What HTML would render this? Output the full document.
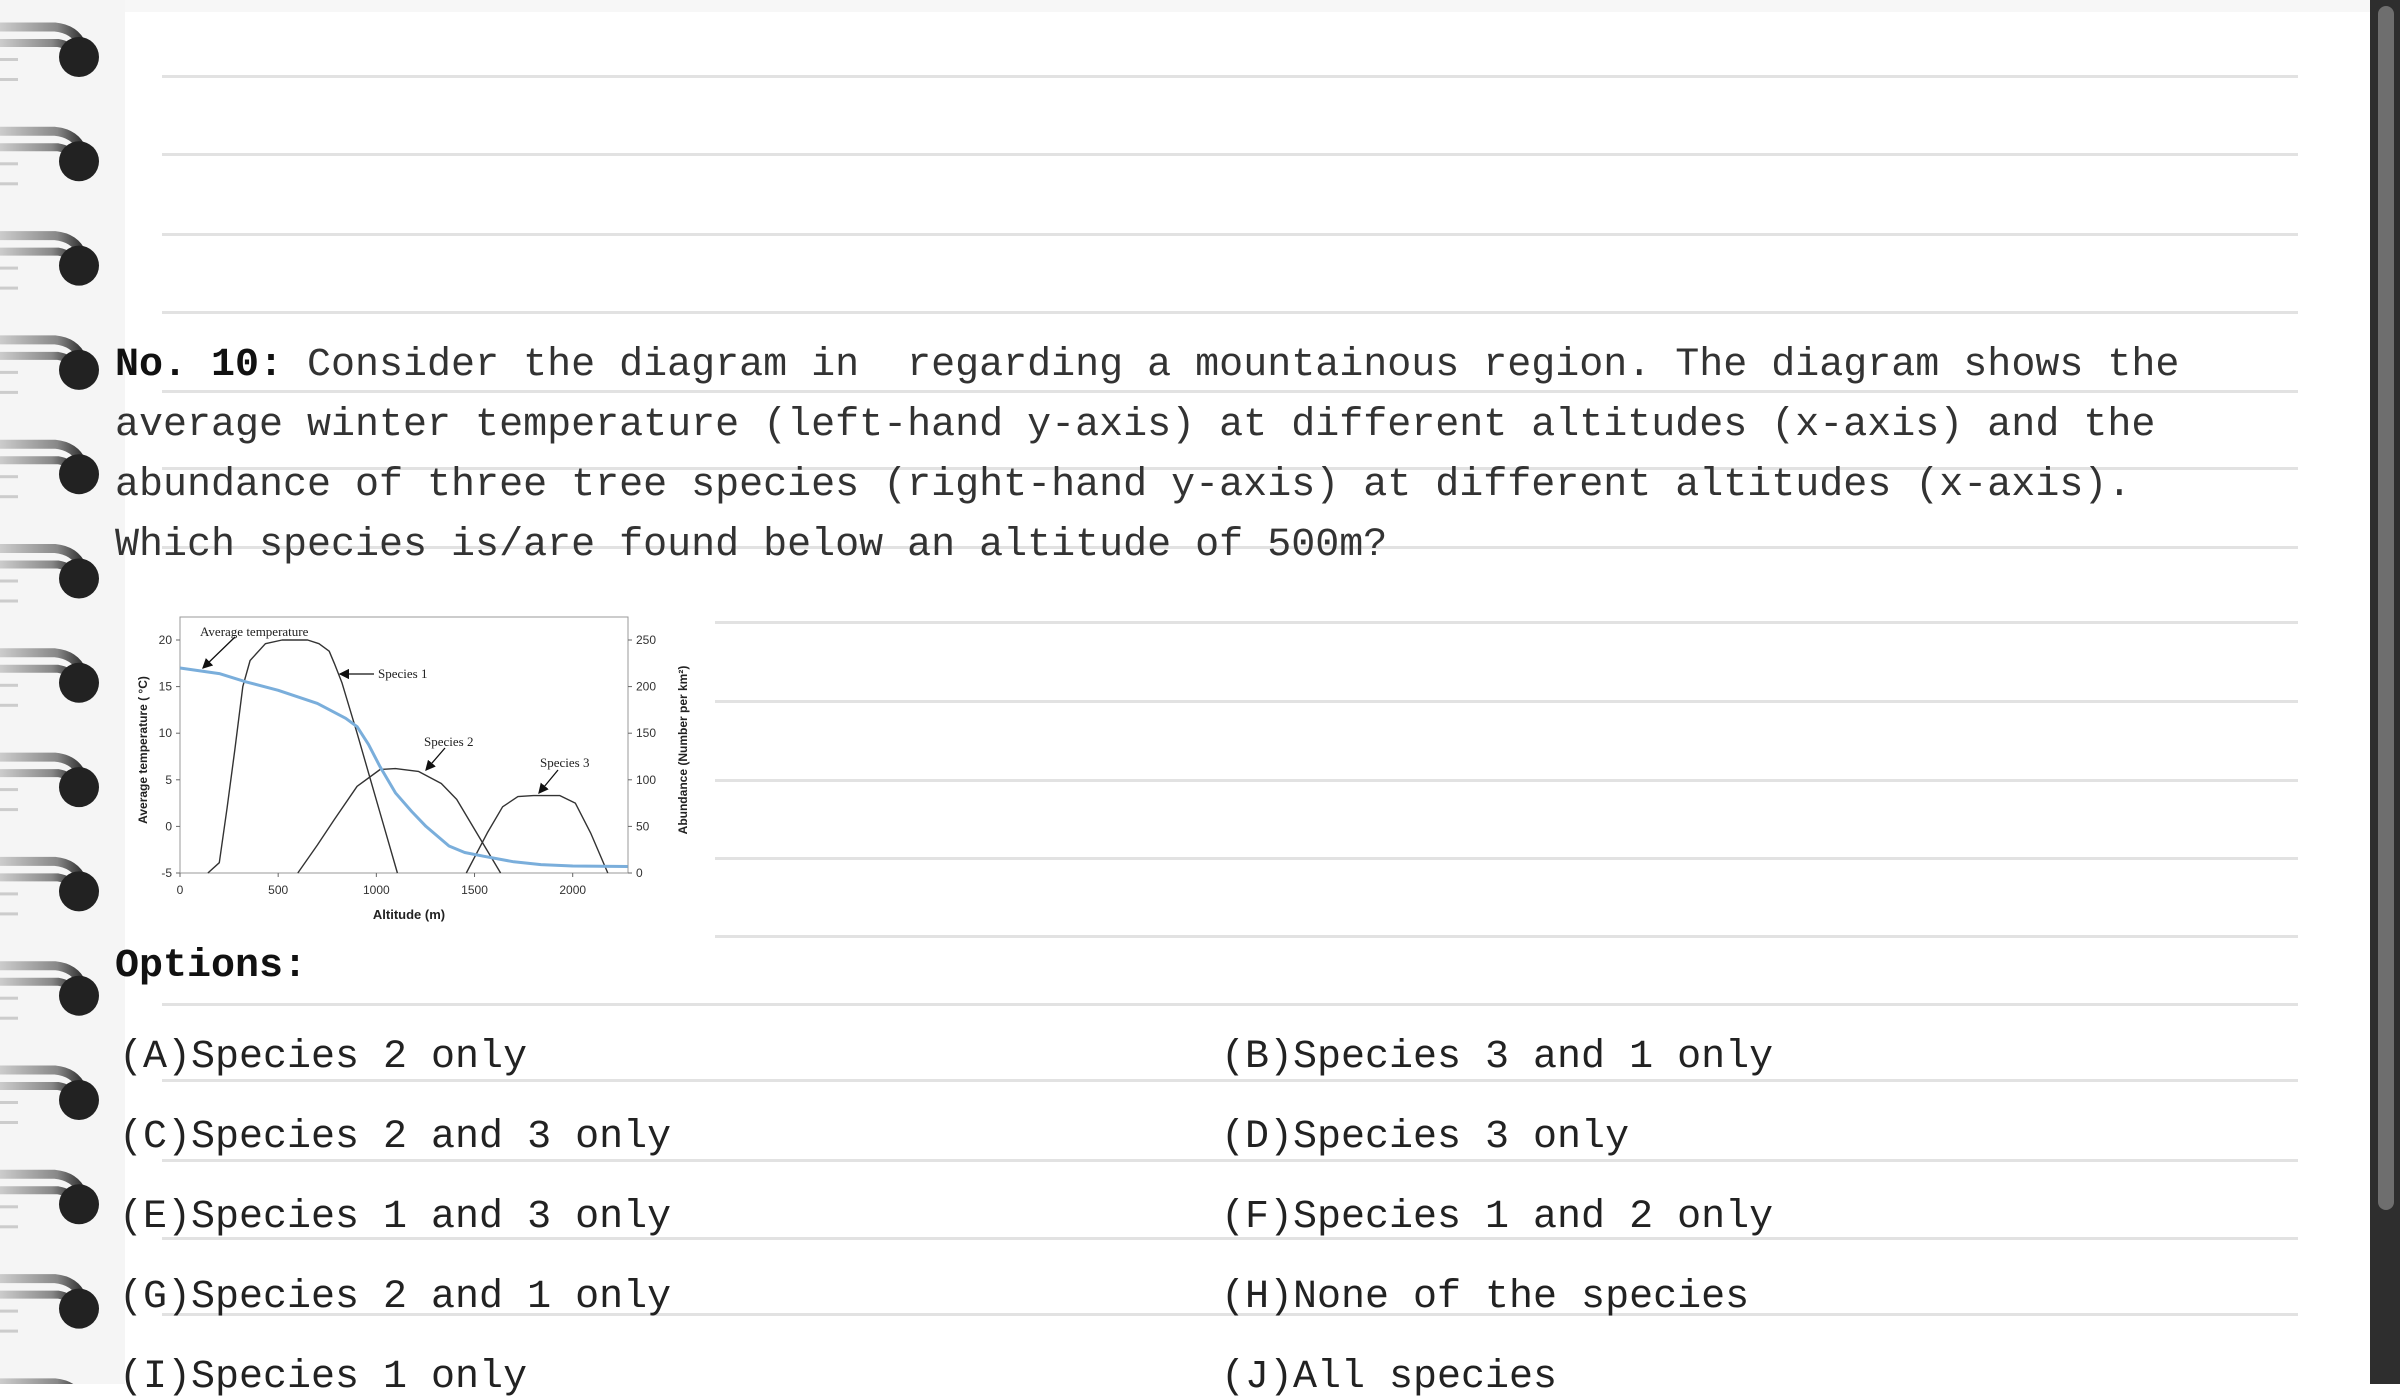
<!DOCTYPE html>
<html><head><meta charset="utf-8"><style>
html,body{margin:0;padding:0;}
body{width:2400px;height:1384px;position:relative;overflow:hidden;background:#fff;font-family:"Liberation Mono",monospace;}
.t{position:absolute;font-size:40px;color:#333;white-space:pre;line-height:1;}
.rule{position:absolute;height:3px;background:#e2e2e2;left:162px;width:2136px;}
</style></head><body>
<div style="position:absolute;left:0;top:0;width:125px;height:1384px;background:#f5f5f5"></div>
<div style="position:absolute;left:125px;top:0;width:2245px;height:12px;background:#f7f7f7"></div>
<div style="position:absolute;left:2370px;top:0;width:30px;height:1384px;background:#2e2e2e"></div>
<div style="position:absolute;left:2378px;top:6px;width:16px;height:1204px;background:#6e6e6e;border-radius:8px"></div>
<div id="rules"></div>
<svg id="rings" width="130" height="1384" style="position:absolute;left:0;top:0">
<defs><linearGradient id="wg" x1="0" x2="1"><stop offset="0" stop-color="#ccc"/><stop offset="0.7" stop-color="#888"/><stop offset="1" stop-color="#333"/></linearGradient></defs>
</svg>
<div class="t" style="left:115px;top:346px"><b style="color:#111">No. 10:</b> Consider the diagram in  regarding a mountainous region. The diagram shows the</div>
<div class="t" style="left:115px;top:406px">average winter temperature (left-hand y-axis) at different altitudes (x-axis) and the</div>
<div class="t" style="left:115px;top:466px">abundance of three tree species (right-hand y-axis) at different altitudes (x-axis).</div>
<div class="t" style="left:115px;top:526px">Which species is/are found below an altitude of 500m?</div>

<svg id="chart" width="620" height="340" style="position:absolute;left:120px;top:600px;font-family:'Liberation Sans',sans-serif"></svg>

<div class="t" style="left:115px;top:947px;color:#111;font-weight:bold">Options:</div>
<div class="t" style="left:119px;top:1038px;color:#222">(A)Species 2 only</div>
<div class="t" style="left:1221px;top:1038px;color:#222">(B)Species 3 and 1 only</div>
<div class="t" style="left:119px;top:1118px;color:#222">(C)Species 2 and 3 only</div>
<div class="t" style="left:1221px;top:1118px;color:#222">(D)Species 3 only</div>
<div class="t" style="left:119px;top:1198px;color:#222">(E)Species 1 and 3 only</div>
<div class="t" style="left:1221px;top:1198px;color:#222">(F)Species 1 and 2 only</div>
<div class="t" style="left:119px;top:1278px;color:#222">(G)Species 2 and 1 only</div>
<div class="t" style="left:1221px;top:1278px;color:#222">(H)None of the species</div>
<div class="t" style="left:119px;top:1358px;color:#222">(I)Species 1 only</div>
<div class="t" style="left:1221px;top:1358px;color:#222">(J)All species</div>

<script>
const ruleYs=[75,153,233,311,390,467,546,621,700,779,857,935,1003,1079,1159,1237,1313];
const R=document.getElementById('rules');
ruleYs.forEach(y=>{const d=document.createElement('div');d.className='rule';


d.style.top=y+'px';if(y>600&&y<940){d.style.left='715px';d.style.width='1583px';}R.appendChild(d);});
const NS='http://www.w3.org/2000/svg';
const rs=document.getElementById('rings');
for(let i=0;i<14;i++){const c=57+i*104.3;
 const g=document.createElementNS(NS,'g');
 
 
 g.innerHTML=`<path d="M0 ${c-30} L55 ${c-30} Q75 ${c-28} 82 ${c-12}" stroke="url(#wg)" stroke-width="9" fill="none"/><path d="M0 ${c-14} L58 ${c-14} Q70 ${c-12} 74 ${c-4}" stroke="url(#wg)" stroke-width="8" fill="none"/><circle cx="79" cy="${c}" r="20" fill="#222"/><rect x="0" y="${c+1}" width="18" height="3" fill="#ccc"/><rect x="0" y="${c+21}" width="18" height="3" fill="#ccc"/>`;
 rs.appendChild(g);}

// chart data
const tempAlt=[0,200,337,500,700,844,902,960,1019,1097,1180,1253,1370,1450,1545,1700,1838,2000,2280];
const tempVal=[17,16.4,15.5,14.6,13.2,11.6,10.7,8.8,6.4,3.6,1.6,0,-2.1,-2.8,-3.2,-3.8,-4.1,-4.25,-4.3];
const sp1Alt=[142,200,240,279,320,357,435,520,591,650,708,760,786,825,902,980,1107];
const sp1Val=[0,11,70,132,200,228,246,250,250,250,246,238,225,204,150,93,0];
const sp2Alt=[600,700,785,902,1019,1097,1214,1331,1409,1633];
const sp2Val=[0,30,57,93,111,112,109,96,79,0];
const sp3Alt=[1458,1565,1643,1721,1800,1935,2013,2091,2179];
const sp3Val=[0,43,71,82,83,83,75,43,0];
const xTicks=[0,500,1000,1500,2000];
const yLeftTicks=[-5,0,5,10,15,20];
const yRightTicks=[0,50,100,150,200,250];

const L=60,Rr=508,T=17,B=273;
const sx=a=>L+a*(392.7/2000);
const syT=v=>B-(v+5)*(233/25);
const syA=v=>B-v*(233/250);
const svg=document.getElementById('chart');
function el(tag,attrs,name,text){const e=document.createElementNS(NS,tag);for(const k in attrs)e.setAttribute(k,attrs[k]);
 
 
 if(text!==undefined)e.textContent=text;svg.appendChild(e);return e;}
el('rect',{x:L,y:T,width:Rr-L,height:B-T,fill:'#fff',stroke:'#999','stroke-width':1},'plot-frame');
xTicks.forEach(t=>{el('line',{x1:sx(t),x2:sx(t),y1:B,y2:B+4,stroke:'#666'},'x-tick');
 el('text',{x:sx(t),y:B+21,'font-size':12,'text-anchor':'middle',fill:'#333'},'x-tick-label',t);});
yLeftTicks.forEach(t=>{el('line',{x1:L-4,x2:L,y1:syT(t),y2:syT(t),stroke:'#666'},'y-left-tick');
 el('text',{x:L-8,y:syT(t)+4,'font-size':12,'text-anchor':'end',fill:'#333'},'y-left-tick-label',t);});
yRightTicks.forEach(t=>{el('line',{x1:Rr,x2:Rr+4,y1:syA(t),y2:syA(t),stroke:'#666'},'y-right-tick');
 el('text',{x:Rr+8,y:syA(t)+4,'font-size':12,'text-anchor':'start',fill:'#333'},'y-right-tick-label',t);});
el('text',{x:(L+Rr)/2+5,y:319,'font-size':13,'font-weight':'bold','text-anchor':'middle',fill:'#222'},'x-axis-title','Altitude (m)');
el('text',{x:0,y:0,'font-size':12,'font-weight':'bold','text-anchor':'middle',fill:'#222',transform:`translate(27,${(T+B)/2+5}) rotate(-90)`},'y-left-axis-title','Average temperature ( \u00B0C)');
el('text',{x:0,y:0,'font-size':12,'font-weight':'bold','text-anchor':'middle',fill:'#222',transform:`translate(567,${(T+B)/2+5}) rotate(-90)`},'y-right-axis-title','Abundance (Number per km\u00B2)');
function pathOf(xs,ys,fy){return xs.map((a,i)=>(i?'L':'M')+sx(a).toFixed(1)+' '+fy(ys[i]).toFixed(1)).join(' ');}
el('path',{d:pathOf(sp1Alt,sp1Val,syA),fill:'none',stroke:'#333','stroke-width':1.4,'stroke-linejoin':'round'},'species-1-line');
el('path',{d:pathOf(sp2Alt,sp2Val,syA),fill:'none',stroke:'#333','stroke-width':1.4,'stroke-linejoin':'round'},'species-2-line');
el('path',{d:pathOf(sp3Alt,sp3Val,syA),fill:'none',stroke:'#333','stroke-width':1.4,'stroke-linejoin':'round'},'species-3-line');
el('path',{d:pathOf(tempAlt,tempVal,syT),fill:'none',stroke:'#7aaedb','stroke-width':3,'stroke-linejoin':'round'},'temperature-line');
el('defs',{},'arrow-defs').innerHTML='<marker id="ah" markerWidth="8" markerHeight="8" refX="7" refY="4" orient="auto"><path d="M0 0 L8 4 L0 8 z" fill="#111"/></marker>';
const ann=[['Average temperature',80,32,115,37,83,68],['Species 1',258,74,254,74,220,74],['Species 2',304,142,325,148,306,170],['Species 3',420,163,438,170,419,193]];
ann.forEach(a=>{el('text',{x:a[1],y:a[2]+4,'font-size':13,'font-family':'Liberation Serif,serif',fill:'#222'},'annotation-label',a[0]);
 el('line',{x1:a[3],y1:a[4],x2:a[5],y2:a[6],stroke:'#111','stroke-width':1.3,'marker-end':'url(#ah)'},'annotation-arrow');});
</script>
</body></html>
